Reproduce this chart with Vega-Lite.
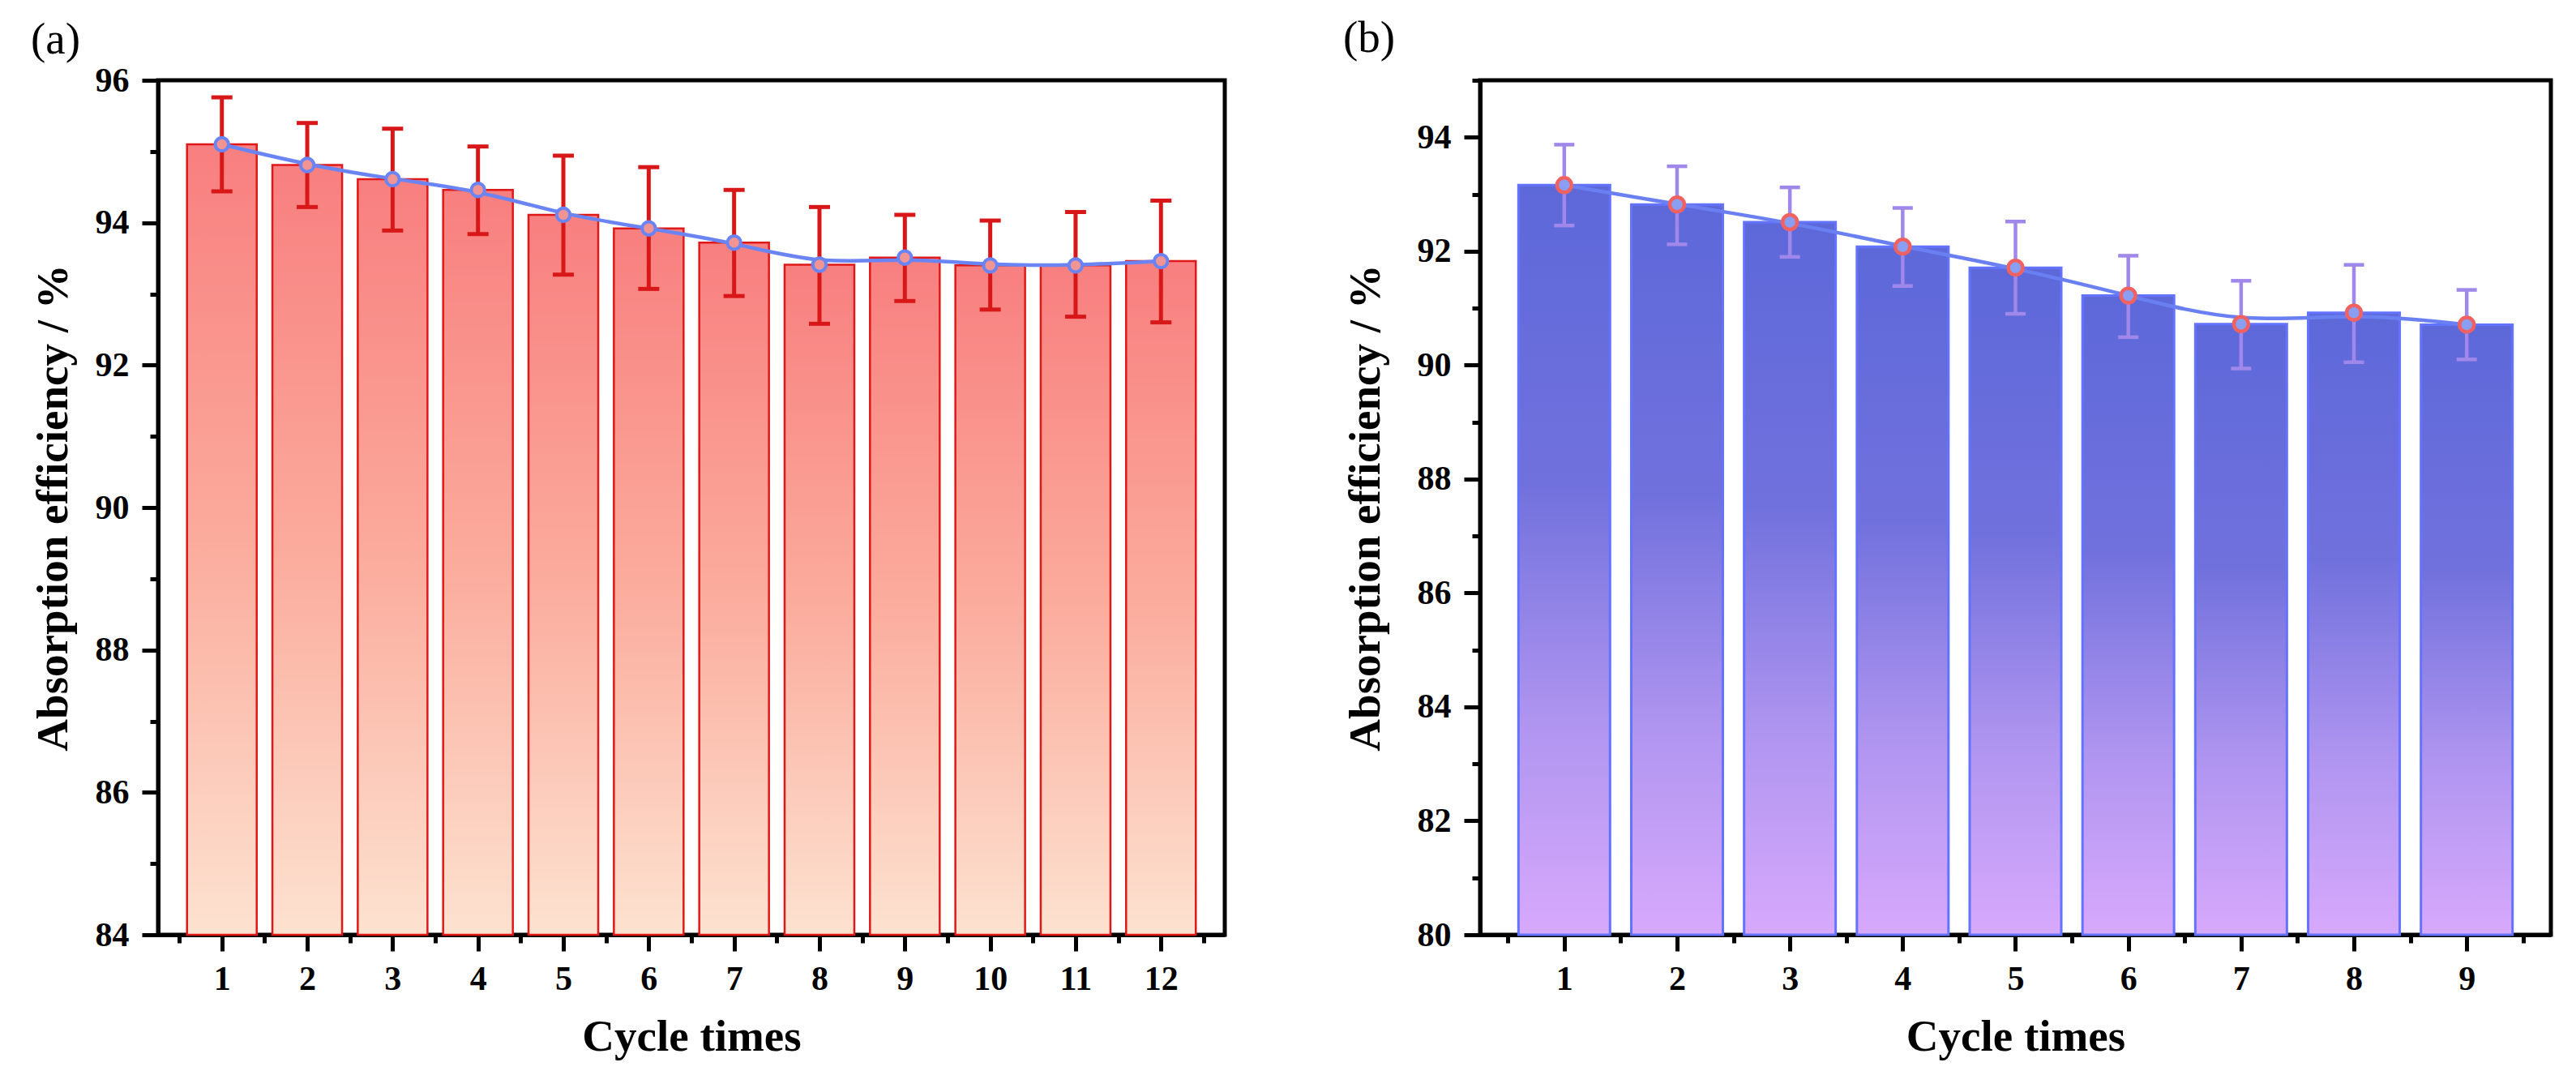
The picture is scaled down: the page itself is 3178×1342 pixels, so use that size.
{
  "$schema": "https://vega.github.io/schema/vega-lite/v6.json",
  "padding": {"left": 35, "top": 17, "right": 30, "bottom": 20},
  "spacing": 140,
  "config": {
    "font": "Liberation Serif",
    "view": {"stroke": "black", "strokeWidth": 5},
    "axis": {
      "grid": false,
      "format": "d",
      "domainColor": "black",
      "domainWidth": 5,
      "tickColor": "black",
      "tickWidth": 5,
      "labelFont": "Liberation Serif",
      "labelFontWeight": "bold",
      "labelFontSize": 42,
      "labelColor": "black",
      "titleFont": "Liberation Serif",
      "titleFontWeight": "bold",
      "titleFontSize": 55,
      "titleColor": "black"
    },
    "title": {"font": "Liberation Serif", "fontSize": 55, "fontWeight": "normal", "color": "black", "anchor": "start", "frame": "bounds"}
  },
  "datasets": {
    "a": [
      {"cycle": 1, "value": 95.10, "lo": 94.44, "hi": 95.76},
      {"cycle": 2, "value": 94.81, "lo": 94.22, "hi": 95.40},
      {"cycle": 3, "value": 94.61, "lo": 93.89, "hi": 95.32},
      {"cycle": 4, "value": 94.46, "lo": 93.84, "hi": 95.07},
      {"cycle": 5, "value": 94.11, "lo": 93.27, "hi": 94.94},
      {"cycle": 6, "value": 93.92, "lo": 93.07, "hi": 94.78},
      {"cycle": 7, "value": 93.72, "lo": 92.97, "hi": 94.46},
      {"cycle": 8, "value": 93.41, "lo": 92.58, "hi": 94.22},
      {"cycle": 9, "value": 93.51, "lo": 92.90, "hi": 94.11},
      {"cycle": 10, "value": 93.40, "lo": 92.78, "hi": 94.03},
      {"cycle": 11, "value": 93.40, "lo": 92.68, "hi": 94.15},
      {"cycle": 12, "value": 93.46, "lo": 92.60, "hi": 94.31}
    ],
    "b": [
      {"cycle": 1, "value": 93.16, "lo": 92.45, "hi": 93.87},
      {"cycle": 2, "value": 92.82, "lo": 92.12, "hi": 93.49},
      {"cycle": 3, "value": 92.51, "lo": 91.90, "hi": 93.12},
      {"cycle": 4, "value": 92.08, "lo": 91.39, "hi": 92.76},
      {"cycle": 5, "value": 91.71, "lo": 90.90, "hi": 92.52},
      {"cycle": 6, "value": 91.22, "lo": 90.49, "hi": 91.92},
      {"cycle": 7, "value": 90.72, "lo": 89.94, "hi": 91.48},
      {"cycle": 8, "value": 90.92, "lo": 90.05, "hi": 91.76},
      {"cycle": 9, "value": 90.71, "lo": 90.10, "hi": 91.32}
    ]
  },
  "hconcat": [
    {
      "title": {"text": "(a)", "offset": 0},
      "width": 1316,
      "height": 1054,
      "data": {"name": "a"},
      "encoding": {
        "x": {
          "field": "cycle",
          "type": "quantitative",
          "title": "Cycle times",
          "scale": {"domain": [0.3, 12.7], "nice": false, "zero": false},
          "axis": {
            "values": [0.5, 1, 1.5, 2, 2.5, 3, 3.5, 4, 4.5, 5, 5.5, 6, 6.5, 7, 7.5, 8, 8.5, 9, 9.5, 10, 10.5, 11, 11.5, 12, 12.5],
            "labelExpr": "datum.value % 1 === 0 ? datum.label : ''",
            "tickSize": {"condition": {"test": "datum.value % 1 === 0", "value": 20}, "value": 10},
            "labelPadding": 14,
            "titlePadding": 24
          }
        }
      },
      "layer": [
        {
          "mark": {
            "type": "bar",
            "size": 86,
            "fill": {"gradient": "linear", "x1": 0, "y1": 0, "x2": 0, "y2": 1,
              "stops": [
                {"offset": 0, "color": "#f87f7f"},
                {"offset": 0.5, "color": "#fbab9c"},
                {"offset": 1, "color": "#fde2d0"}
              ]},
            "stroke": "#e01818",
            "strokeWidth": 2.5
          },
          "encoding": {
            "y": {
              "field": "value",
              "type": "quantitative",
              "title": "Absorption efficiency / %",
              "scale": {"domain": [84, 96], "nice": false, "zero": false},
              "axis": {
                "values": [84, 85, 86, 87, 88, 89, 90, 91, 92, 93, 94, 95, 96],
                "labelExpr": "datum.value % 2 === 0 ? datum.label : ''",
                "tickSize": {"condition": {"test": "datum.value % 2 === 0", "value": 20}, "value": 10},
                "labelPadding": 16,
                "titlePadding": 23
              }
            },
            "y2": {"datum": 84}
          }
        },
        {
          "mark": {"type": "rule", "color": "#d81818", "strokeWidth": 5},
          "encoding": {
            "y": {"field": "lo", "type": "quantitative", "title": "Absorption efficiency / %"},
            "y2": {"field": "hi"}
          }
        },
        {
          "mark": {"type": "tick", "orient": "horizontal", "size": 26, "thickness": 5, "color": "#d81818", "opacity": 1},
          "encoding": {"y": {"field": "lo", "type": "quantitative", "title": "Absorption efficiency / %"}}
        },
        {
          "mark": {"type": "tick", "orient": "horizontal", "size": 26, "thickness": 5, "color": "#d81818", "opacity": 1},
          "encoding": {"y": {"field": "hi", "type": "quantitative", "title": "Absorption efficiency / %"}}
        },
        {
          "mark": {"type": "line", "interpolate": "basis", "color": "#6a84f4", "strokeWidth": 4.5},
          "encoding": {"y": {"field": "value", "type": "quantitative", "title": "Absorption efficiency / %"}}
        },
        {
          "mark": {"type": "point", "shape": "circle", "filled": true, "size": 270, "fill": "#f29494", "stroke": "#6a84f4", "strokeWidth": 4, "opacity": 1},
          "encoding": {"y": {"field": "value", "type": "quantitative", "title": "Absorption efficiency / %"}}
        }
      ]
    },
    {
      "title": {"text": "(b)", "offset": 21},
      "width": 1321,
      "height": 1054,
      "data": {"name": "b"},
      "encoding": {
        "x": {
          "field": "cycle",
          "type": "quantitative",
          "title": "Cycle times",
          "scale": {"domain": [0.29, 9.71], "nice": false, "zero": false},
          "axis": {
            "values": [0.5, 1, 1.5, 2, 2.5, 3, 3.5, 4, 4.5, 5, 5.5, 6, 6.5, 7, 7.5, 8, 8.5, 9, 9.5],
            "labelExpr": "datum.value % 1 === 0 ? datum.label : ''",
            "tickSize": {"condition": {"test": "datum.value % 1 === 0", "value": 20}, "value": 10},
            "labelPadding": 14,
            "titlePadding": 24
          }
        }
      },
      "layer": [
        {
          "mark": {
            "type": "bar",
            "size": 113,
            "fill": {"gradient": "linear", "x1": 0, "y1": 0, "x2": 0, "y2": 1,
              "stops": [
                {"offset": 0, "color": "#5d68d9"},
                {"offset": 0.4, "color": "#7171dd"},
                {"offset": 0.72, "color": "#b095f0"},
                {"offset": 1, "color": "#d7a9fc"}
              ]},
            "stroke": "#6473ff",
            "strokeWidth": 3
          },
          "encoding": {
            "y": {
              "field": "value",
              "type": "quantitative",
              "title": "Absorption efficiency / %",
              "scale": {"domain": [80, 95], "nice": false, "zero": false},
              "axis": {
                "values": [80, 81, 82, 83, 84, 85, 86, 87, 88, 89, 90, 91, 92, 93, 94, 95],
                "labelExpr": "datum.value % 2 === 0 ? datum.label : ''",
                "tickSize": {"condition": {"test": "datum.value % 2 === 0", "value": 20}, "value": 10},
                "labelPadding": 16,
                "titlePadding": 35
              }
            },
            "y2": {"datum": 80}
          }
        },
        {
          "mark": {"type": "rule", "color": "#a088ea", "strokeWidth": 4.5},
          "encoding": {
            "y": {"field": "lo", "type": "quantitative", "title": "Absorption efficiency / %"},
            "y2": {"field": "hi"}
          }
        },
        {
          "mark": {"type": "tick", "orient": "horizontal", "size": 25, "thickness": 4.5, "color": "#a088ea", "opacity": 1},
          "encoding": {"y": {"field": "lo", "type": "quantitative", "title": "Absorption efficiency / %"}}
        },
        {
          "mark": {"type": "tick", "orient": "horizontal", "size": 25, "thickness": 4.5, "color": "#a088ea", "opacity": 1},
          "encoding": {"y": {"field": "hi", "type": "quantitative", "title": "Absorption efficiency / %"}}
        },
        {
          "mark": {"type": "line", "interpolate": "basis", "color": "#6a80f2", "strokeWidth": 4.5},
          "encoding": {"y": {"field": "value", "type": "quantitative", "title": "Absorption efficiency / %"}}
        },
        {
          "mark": {"type": "point", "shape": "circle", "filled": true, "size": 320, "fill": "#8a9ff4", "stroke": "#f06262", "strokeWidth": 4.5, "opacity": 1},
          "encoding": {"y": {"field": "value", "type": "quantitative", "title": "Absorption efficiency / %"}}
        }
      ]
    }
  ]
}
